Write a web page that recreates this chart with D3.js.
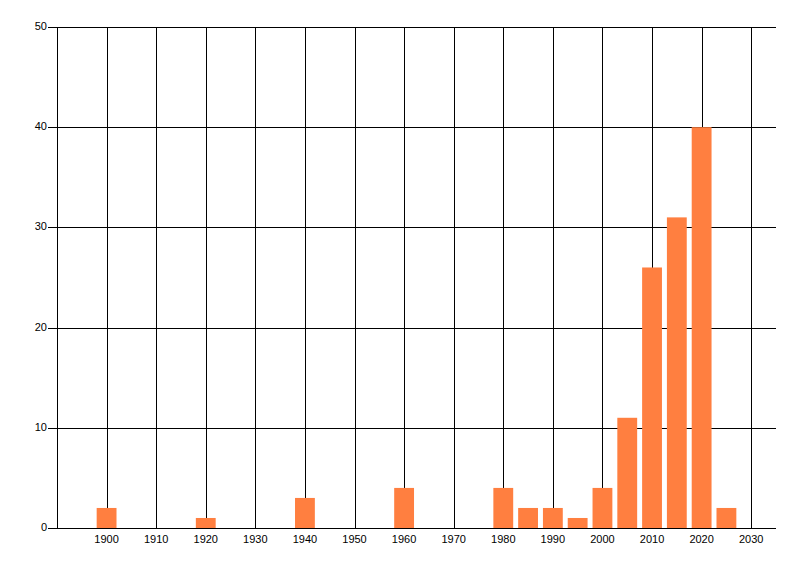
<!DOCTYPE html>
<html>
<head>
<meta charset="utf-8">
<script src="https://cdn.jsdelivr.net/npm/d3@7"></script>
<style>
  body { margin: 0; background: #fff; }
  svg { display: block; }
  text { font-family: "Liberation Sans", Arial, sans-serif; font-size: 11px; fill: #000; }
</style>
</head>
<body>
<div id="chart"></div>
<script>
'use strict';

const years = [1900, 1920, 1940, 1960, 1980, 1985, 1990, 1995, 2000, 2005, 2010, 2015, 2020, 2025];
const counts = [2, 1, 3, 4, 4, 2, 2, 1, 4, 11, 26, 31, 40, 2];
const xTicks = [1900, 1910, 1920, 1930, 1940, 1950, 1960, 1970, 1980, 1990, 2000, 2010, 2020, 2030];
const yTicks = [0, 10, 20, 30, 40, 50];

const width = 800;
const height = 576;
const plot = { left: 57, right: 776, top: 27, bottom: 528 };

const svg = d3.select('#chart')
    .append('svg')
    .attr('width', width)
    .attr('height', height);

const xScale = d3.scaleLinear()
    .domain([1890, 2035])
    .range([plot.left, plot.right]);

const yScale = d3.scaleLinear()
    .domain([0, 50])
    .range([plot.bottom, plot.top]);

// grid lines
svg.selectAll('line.vgrid')
    .data(xTicks)
    .join('line')
    .attr('class', 'vgrid')
    .attr('x1', function (d) { return Math.round(xScale(d)) + 0.5; })
    .attr('x2', function (d) { return Math.round(xScale(d)) + 0.5; })
    .attr('y1', plot.top)
    .attr('y2', plot.bottom)
    .attr('stroke', '#000')
    .attr('stroke-width', 1);

svg.selectAll('line.hgrid')
    .data(yTicks)
    .join('line')
    .attr('class', 'hgrid')
    .attr('x1', plot.left - 9)
    .attr('x2', plot.right)
    .attr('y1', function (d) { return Math.round(yScale(d)) + 0.5; })
    .attr('y2', function (d) { return Math.round(yScale(d)) + 0.5; })
    .attr('stroke', '#000')
    .attr('stroke-width', 1);

// y axis line
svg.append('line')
    .attr('x1', plot.left + 0.5)
    .attr('x2', plot.left + 0.5)
    .attr('y1', plot.top)
    .attr('y2', plot.bottom + 1)
    .attr('stroke', '#000');

// bars, 4 years wide, centred on the year
const barData = years.map(function (y, i) {
    return { year: y, value: counts[i] };
});

svg.selectAll('rect.bar')
    .data(barData)
    .join('rect')
    .attr('class', 'bar')
    .attr('x', function (d) { return xScale(d.year - 2); })
    .attr('width', function (d) { return xScale(d.year + 2) - xScale(d.year - 2); })
    .attr('y', function (d) { return yScale(d.value); })
    .attr('height', function (d) { return yScale(0) - yScale(d.value); })
    .attr('fill', '#ff7f40');

// tick labels
svg.selectAll('text.ylabel')
    .data(yTicks)
    .join('text')
    .attr('class', 'ylabel')
    .attr('x', plot.left - 10)
    .attr('y', function (d) { return yScale(d); })
    .attr('text-anchor', 'end')
    .attr('dominant-baseline', 'middle')
    .text(function (d) { return d; });

svg.selectAll('text.xlabel')
    .data(xTicks)
    .join('text')
    .attr('class', 'xlabel')
    .attr('x', function (d) { return xScale(d); })
    .attr('y', plot.bottom + 12)
    .attr('text-anchor', 'middle')
    .attr('dominant-baseline', 'middle')
    .text(function (d) { return d; });
</script>
</body>
</html>
